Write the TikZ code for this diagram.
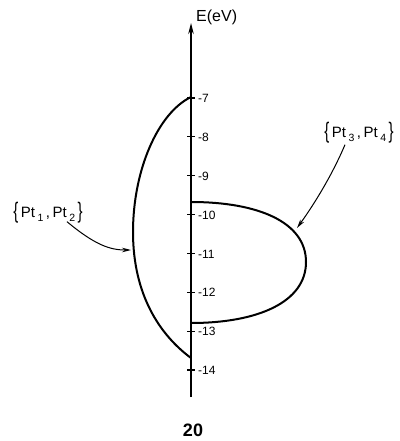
\documentclass[tikz,border=0pt]{standalone}
\usepackage{fontspec}
\setmainfont{Liberation Sans}
\usetikzlibrary{arrows.meta}
\tikzset{
  axisline/.style={line width=1.2pt},
  curveline/.style={line width=2pt},
  pointer/.style={line width=1pt,-{Stealth[length=9pt,width=4.5pt]}},
  ticklabel/.style={anchor=west,inner sep=0pt,font=\fontsize{12}{12}\selectfont},
  setlabel/.style={inner sep=0pt,font=\fontsize{15}{15}\selectfont},
  ticktick/.style={line width=1.2pt}
}
\newcommand{\sub}[1]{\raisebox{-0.5ex}{\fontsize{10.5}{10.5}\selectfont #1}}
\newcommand{\brl}{\raisebox{-0.15ex}{\scalebox{1}[1.5]{\{}}}
\newcommand{\brr}{\raisebox{-0.15ex}{\scalebox{1}[1.5]{\}}}}
\begin{document}
\begin{tikzpicture}[x=1pt,y=-1pt]
\useasboundingbox (0,0) rectangle (399,441);
% axis
\coordinate (abot) at (191,397);
\coordinate (atop) at (191,23);
\draw[axisline,-{Stealth[length=11pt,width=5.5pt]}] (abot) -- (atop);
\node[anchor=west,inner sep=0pt,font=\fontsize{16}{16}\selectfont] (elab) at (196,17) {E(eV)};
% ticks
\foreach \e [count=\i] in {7,...,14}{
  \pgfmathsetmacro{\yy}{98+(\e-7)*38.86}
  \coordinate (t\e) at (191,\yy);
  \draw[ticktick] ([xshift=-4pt]t\e) -- ([xshift=4pt]t\e);
  \node[ticklabel] (l\e) at ([xshift=7pt,yshift=-0.5pt]t\e) {-\e};
}
% left curve {Pt1,Pt2}
\coordinate (la) at (191,97);
\coordinate (lm) at (133,232);
\coordinate (lb) at (191,358);
\draw[curveline] (la) .. controls (158,113) and (133,170) .. (lm)
  .. controls (133,295) and (160,335) .. (lb);
% right curve {Pt3,Pt4}
\coordinate (ra) at (191,202);
\coordinate (rm) at (306,262);
\coordinate (rb) at (191,323);
\draw[curveline] (ra) .. controls (258,202) and (306,222) .. (rm)
  .. controls (306,302) and (258,323) .. (rb);
% labels
\node[setlabel] (s12) at (48,213) {\brl\,Pt\,\sub{1}\,,\,Pt\,\sub{2}\,\brr};
\node[setlabel] (s34) at (359,133) {\brl\,Pt\,\sub{3}\,,\,Pt\,\sub{4}\,\brr};
\coordinate (p12) at (131,250);
\coordinate (p34) at (297,228);
\draw[pointer] (s12.south) ++(19pt,2pt) coordinate (q12) .. controls (95,245) and (110,250) .. (p12);
\draw[pointer] (s34.south) ++(-14pt,-1pt) coordinate (q34) .. controls (330,180) and (310,210) .. (p34);
% figure number
\node[inner sep=0pt,font=\bfseries\fontsize{18}{18}\selectfont] (num) at (193,430) {20};
\end{tikzpicture}
\end{document}
